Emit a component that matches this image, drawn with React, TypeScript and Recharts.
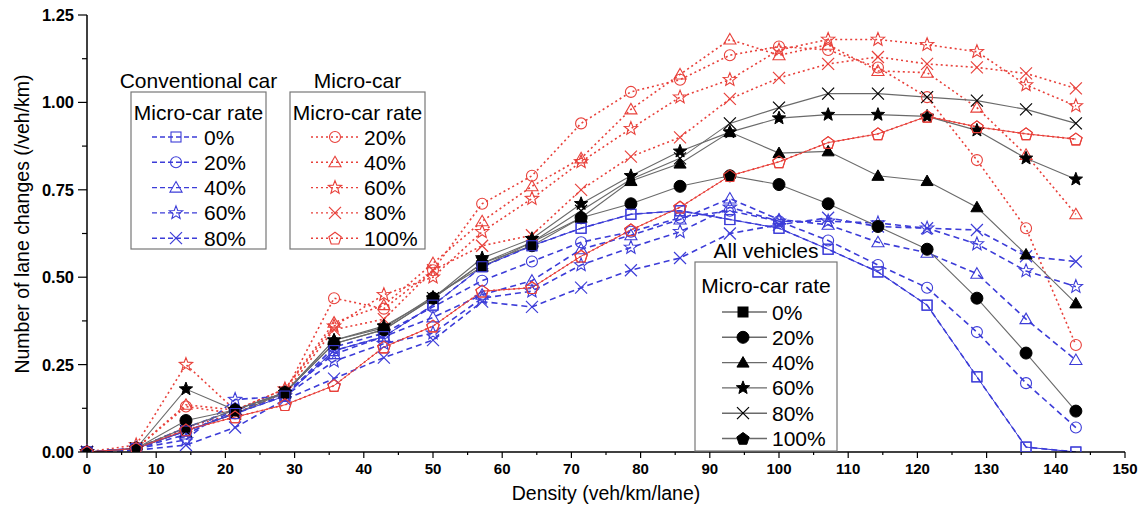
import React from 'react'
import { LineChart, Line, XAxis, YAxis } from 'recharts'

// density (veh/km/lane)
const density = [0, 7.1, 14.3, 21.4, 28.6, 35.7, 42.9, 50, 57.1, 64.3, 71.4, 78.6, 85.7, 92.9, 100, 107.1, 114.3, 121.4, 128.6, 135.7, 142.9]

// conventional car, by micro-car rate
const conv0 = [0, 0.01, 0.06, 0.11, 0.16, 0.29, 0.33, 0.42, 0.53, 0.59, 0.64, 0.68, 0.69, 0.665, 0.64, 0.58, 0.515, 0.42, 0.215, 0.014, 0]
const conv20 = [0, 0.01, 0.07, 0.12, 0.16, 0.3, 0.34, 0.415, 0.49, 0.545, 0.6, 0.63, 0.67, 0.69, 0.66, 0.605, 0.535, 0.47, 0.343, 0.197, 0.07]
const conv40 = [0, 0.01, 0.05, 0.12, 0.17, 0.28, 0.33, 0.385, 0.45, 0.49, 0.58, 0.62, 0.665, 0.725, 0.665, 0.65, 0.6, 0.57, 0.51, 0.38, 0.263]
const conv60 = [0, 0.01, 0.035, 0.15, 0.16, 0.26, 0.31, 0.34, 0.44, 0.46, 0.535, 0.585, 0.63, 0.7, 0.66, 0.66, 0.655, 0.64, 0.595, 0.518, 0.473]
const conv80 = [0, 0.005, 0.02, 0.07, 0.15, 0.21, 0.27, 0.32, 0.43, 0.415, 0.47, 0.52, 0.555, 0.625, 0.65, 0.67, 0.645, 0.64, 0.635, 0.56, 0.545]

// micro-car
const micro20 = [0, 0.01, 0.13, 0.11, 0.17, 0.44, 0.41, 0.52, 0.71, 0.79, 0.94, 1.03, 1.065, 1.135, 1.16, 1.15, 1.1, 1.015, 0.835, 0.64, 0.306]
const micro40 = [0, 0.01, 0.135, 0.12, 0.18, 0.37, 0.42, 0.54, 0.66, 0.76, 0.84, 0.98, 1.08, 1.18, 1.135, 1.165, 1.09, 1.085, 0.985, 0.85, 0.68]
const micro60 = [0, 0.02, 0.25, 0.12, 0.18, 0.36, 0.45, 0.5, 0.63, 0.725, 0.83, 0.925, 1.015, 1.065, 1.15, 1.18, 1.18, 1.165, 1.145, 1.05, 0.99]
const micro80 = [0, 0.01, 0.07, 0.11, 0.17, 0.35, 0.38, 0.52, 0.59, 0.62, 0.75, 0.845, 0.9, 1.01, 1.07, 1.11, 1.13, 1.11, 1.1, 1.083, 1.04]
const micro100 = [0, 0.01, 0.063, 0.1, 0.135, 0.19, 0.3, 0.36, 0.46, 0.47, 0.56, 0.635, 0.7, 0.79, 0.83, 0.885, 0.91, 0.96, 0.93, 0.91, 0.895]

// all vehicles
const all0 = conv0
const all20 = [0, 0.01, 0.09, 0.12, 0.17, 0.31, 0.35, 0.44, 0.54, 0.59, 0.67, 0.71, 0.76, 0.79, 0.765, 0.71, 0.645, 0.58, 0.44, 0.283, 0.117]
const all40 = [0, 0.01, 0.07, 0.12, 0.17, 0.32, 0.355, 0.445, 0.53, 0.6, 0.67, 0.775, 0.825, 0.915, 0.855, 0.86, 0.79, 0.775, 0.7, 0.565, 0.425]
const all60 = [0, 0.01, 0.18, 0.12, 0.17, 0.32, 0.36, 0.44, 0.555, 0.61, 0.71, 0.79, 0.86, 0.915, 0.955, 0.965, 0.965, 0.96, 0.92, 0.84, 0.78]
const all80 = [0, 0.01, 0.06, 0.11, 0.17, 0.31, 0.35, 0.44, 0.54, 0.6, 0.69, 0.78, 0.84, 0.94, 0.985, 1.025, 1.025, 1.015, 1.005, 0.98, 0.94]
const all100 = micro100

const convRates = ['0%', '20%', '40%', '60%', '80%']
const microRates = ['20%', '40%', '60%', '80%', '100%']
const allRates = ['0%', '20%', '40%', '60%', '80%', '100%']

const xTicks = [0, 5, 10, 15, 20, 25, 30, 35, 40, 45, 50, 55, 60, 65, 70, 75, 80, 85, 90, 95, 100, 105, 110, 115, 120, 125, 130, 135, 140, 145, 150]
const yTicks = [0, 0.125, 0.25, 0.375, 0.5, 0.625, 0.75, 0.875, 1, 1.125, 1.25]

const BLUE = '#3c3cd8'
const RED = '#e8403a'
const GRAY = '#6a6a6a'
const FONT = '"Liberation Sans", Arial, sans-serif'

type Shape = 'square' | 'circle' | 'triangle' | 'star' | 'x' | 'pentagon'

const convShapes: Shape[] = ['square', 'circle', 'triangle', 'star', 'x']
const microShapes: Shape[] = ['circle', 'triangle', 'star', 'x', 'pentagon']
const allShapes: Shape[] = ['square', 'circle', 'triangle', 'star', 'x', 'pentagon']

function polyPts(cx: number, cy: number, n: number, R: number, inner?: number) {
  const pts: string[] = []
  const count = inner ? n * 2 : n
  for (let k = 0; k < count; k++) {
    const r = inner && k % 2 === 1 ? inner : R
    const a = -Math.PI / 2 + (k * 2 * Math.PI) / count
    pts.push(`${(cx + r * Math.cos(a)).toFixed(2)},${(cy + r * Math.sin(a)).toFixed(2)}`)
  }
  return pts.join(' ')
}

function Marker({ shape, cx, cy, color, filled }: { shape: Shape; cx: number; cy: number; color: string; filled: boolean }) {
  if (cx == null || cy == null || isNaN(cx) || isNaN(cy)) return null
  const fill = filled ? color : 'none'
  const sw = filled ? 1 : 1.1
  switch (shape) {
    case 'square':
      return <rect x={cx - 5} y={cy - 5} width={10} height={10} fill={fill} stroke={color} strokeWidth={sw} />
    case 'circle':
      return <circle cx={cx} cy={cy} r={filled ? 6 : 5.5} fill={fill} stroke={color} strokeWidth={sw} />
    case 'triangle':
      return <polygon points={polyPts(cx, cy + 1, 3, 7)} fill={fill} stroke={color} strokeWidth={sw} />
    case 'star':
      return <polygon points={polyPts(cx, cy, 5, 7, 3)} fill={fill} stroke={color} strokeWidth={sw} />
    case 'x':
      return (
        <g stroke={color} strokeWidth={1.2}>
          <line x1={cx - 6} y1={cy - 6} x2={cx + 6} y2={cy + 6} />
          <line x1={cx - 6} y1={cy + 6} x2={cx + 6} y2={cy - 6} />
        </g>
      )
    case 'pentagon':
      return <polygon points={polyPts(cx, cy + 0.5, 5, 6.5)} fill={fill} stroke={color} strokeWidth={sw} />
  }
  return null
}

interface Series {
  key: string
  values: number[]
  shape: Shape
  color: string
  markerColor: string
  dash?: string
  width: number
  filled: boolean
}

const microSeries: Series[] = [micro20, micro40, micro60, micro80, micro100].map((v, i) => ({
  key: `micro${i}`, values: v, shape: microShapes[i], color: RED, markerColor: RED, dash: '2 3', width: 1.6, filled: false,
}))
const convSeries: Series[] = [conv20, conv40, conv60, conv80, conv0].map((v, i) => ({
  key: `conv${i}`, values: v, shape: [...convShapes.slice(1), convShapes[0]][i], color: BLUE, markerColor: BLUE, dash: '6 4', width: 1.6, filled: false,
}))
const allSeries: Series[] = [all20, all40, all60, all80].map((v, i) => ({
  key: `all${i}`, values: v, shape: allShapes[i + 1], color: GRAY, markerColor: '#000', width: 1.1, filled: i !== 3,
}))
const overlaySeries: Series[] = [
  { key: 'allZero', values: all0, shape: 'square', color: BLUE, markerColor: BLUE, width: 1, filled: false },
  { key: 'allHundred', values: all100, shape: 'pentagon', color: RED, markerColor: RED, width: 1, filled: false },
]

const series = [...microSeries, ...convSeries, ...allSeries, ...overlaySeries]

const data = density.map((d, i) => {
  const row: Record<string, number> = { d }
  series.forEach(s => { row[s.key] = s.values[i] })
  return row
})

function XTick({ x, y, payload }: any) {
  const v = payload.value
  const major = v % 10 === 0
  return (
    <g>
      <line x1={x} y1={y} x2={x} y2={y + (major ? 6 : 3)} stroke="#000" strokeWidth={1.2} />
      {major && (
        <text x={x} y={y + 16} textAnchor="middle" dominantBaseline="central" fontSize={15} fontWeight="bold" fontFamily={FONT} fill="#000">
          {v}
        </text>
      )}
    </g>
  )
}

function YTick({ x, y, payload }: any) {
  const v = payload.value
  const major = Math.abs(v * 4 - Math.round(v * 4)) < 1e-6
  return (
    <g>
      <line x1={x - (major ? 9 : 5)} y1={y} x2={x} y2={y} stroke="#000" strokeWidth={1.2} />
      {major && (
        <text x={x - 13} y={y} textAnchor="end" dominantBaseline="central" fontSize={16.5} fontWeight="bold" fontFamily={FONT} fill="#000">
          {v.toFixed(2)}
        </text>
      )}
    </g>
  )
}

function LegendBox({ title, x0, y0, x1, y1, rowsY, labels, shapes, color, markerColor, dash, filled, lineX, markX, textX, heading }: any) {
  return (
    <g>
      {title && (
        <text x={(x0 + x1) / 2} y={y0 - 12} textAnchor="middle" dominantBaseline="central" fontSize={21} fontFamily={FONT} fill="#000">{title}</text>
      )}
      <rect x={x0} y={y0} width={x1 - x0} height={y1 - y0} fill="#fff" stroke="#777" strokeWidth={1.2} />
      <text x={(x0 + x1) / 2} y={heading} textAnchor="middle" dominantBaseline="central" fontSize={21} fontFamily={FONT} fill="#000">Micro-car rate</text>
      {labels.map((lab: string, i: number) => (
        <g key={lab}>
          <line x1={lineX[0]} y1={rowsY + i * 25.3} x2={lineX[1]} y2={rowsY + i * 25.3} stroke={color} strokeWidth={1.4} strokeDasharray={dash} />
          <Marker shape={shapes[i]} cx={markX} cy={rowsY + i * 25.3} color={markerColor} filled={filled && shapes[i] !== 'x'} />
          <text x={textX} y={rowsY + i * 25.3} dominantBaseline="central" fontSize={21} fontFamily={FONT} fill="#000">{lab}</text>
        </g>
      ))}
    </g>
  )
}

export default function App() {
  return (
    <div style={{ position: 'absolute', left: 0, top: 0, width: 1141, height: 511, background: '#fff' }}>
      <LineChart width={1141} height={511} data={data} margin={{ top: 15, right: 16, left: 0, bottom: 0 }}>
        <XAxis
          dataKey="d"
          type="number"
          domain={[0, 150]}
          ticks={xTicks}
          interval={0}
          height={59}
          tickSize={0}
          tickMargin={0}
          tickLine={false}
          axisLine={{ stroke: '#000', strokeWidth: 1.5 }}
          tick={<XTick />}
        />
        <YAxis
          type="number"
          domain={[0, 1.25]}
          ticks={yTicks}
          interval={0}
          width={87}
          tickSize={0}
          tickMargin={0}
          tickLine={false}
          axisLine={{ stroke: '#000', strokeWidth: 1.5 }}
          tick={<YTick />}
          allowDataOverflow
        />
        {series.map(s => (
          <Line
            key={s.key}
            dataKey={s.key}
            type="linear"
            stroke={s.color}
            strokeWidth={s.width}
            strokeDasharray={s.dash}
            isAnimationActive={false}
            dot={(p: any) => <Marker key={`${s.key}-${p.index}`} shape={s.shape} cx={p.cx} cy={p.cy} color={s.markerColor} filled={s.filled} />}
            activeDot={false}
          />
        ))}
      </LineChart>
      <svg width={1141} height={511} style={{ position: 'absolute', left: 0, top: 0, pointerEvents: 'none' }}>
        <text x={606} y={493} textAnchor="middle" dominantBaseline="central" fontSize={19.5} fontFamily={FONT} fill="#000">Density (veh/km/lane)</text>
        <text transform="translate(22,224) rotate(-90)" textAnchor="middle" dominantBaseline="central" fontSize={19.5} fontFamily={FONT} fill="#000">Number of lane changes (/veh/km)</text>
        <LegendBox title="Conventional car" x0={131} y0={92} x1={266} y1={249} heading={112} rowsY={137}
          labels={convRates} shapes={convShapes} color={BLUE} markerColor={BLUE} dash="5 3" filled={false}
          lineX={[152, 200]} markX={176} textX={204} />
        <LegendBox title="Micro-car" x0={290} y0={92} x1={425} y1={249} heading={112} rowsY={137}
          labels={microRates} shapes={microShapes} color={RED} markerColor={RED} dash="2 3" filled={false}
          lineX={[311, 360]} markX={335} textX={364} />
        <LegendBox title="All vehicles" x0={695} y0={262} x1={837} y1={451} heading={285} rowsY={312}
          labels={allRates} shapes={allShapes} color={GRAY} markerColor="#000" filled={true}
          lineX={[722, 767]} markX={743} textX={772} />
      </svg>
    </div>
  )
}
